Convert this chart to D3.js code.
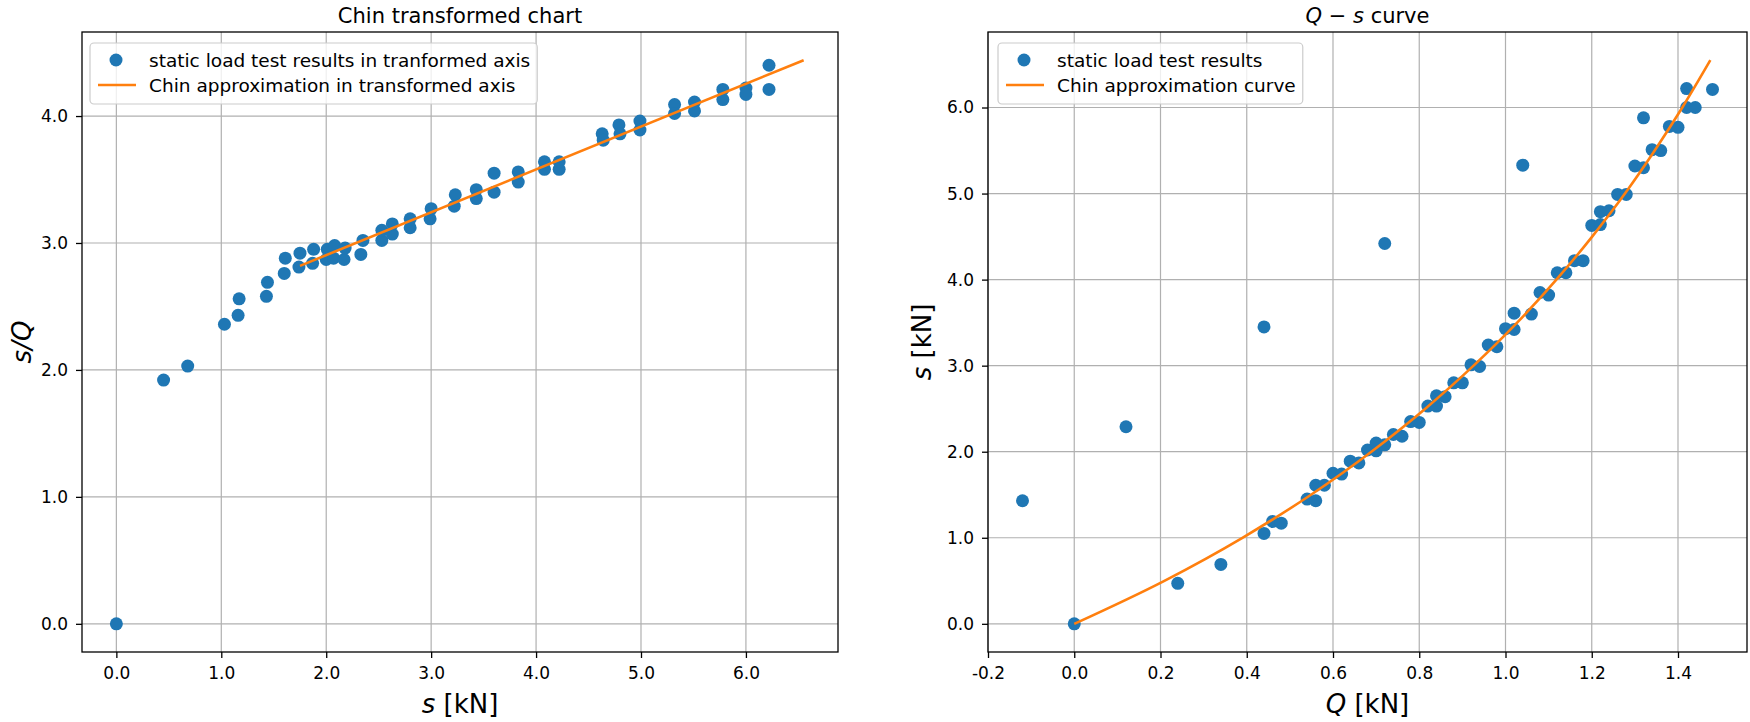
<!DOCTYPE html>
<html>
<head>
<meta charset="utf-8">
<script src="https://cdn.jsdelivr.net/npm/d3@7"></script>
<style>
  body { margin: 0; background: #fff; }
  svg text { font-family: "DejaVu Sans", sans-serif; fill: #000; }
</style>
</head>
<body>
<svg id="chart" width="1750" height="722"></svg>
<script>
// ─── Data: transformed (Chin) chart, s vs s/Q ─────────────────────────────
const chinS = [0.00, 0.45, 0.68, 1.03, 1.16, 1.17, 1.43, 1.44, 1.60, 1.61, 1.74, 1.75, 1.87, 1.88,
  2.00, 2.01, 2.07, 2.08, 2.17, 2.18, 2.33, 2.35, 2.53, 2.53, 2.63, 2.63, 2.80, 2.80, 2.99, 3.00,
  3.22, 3.23, 3.43, 3.43, 3.60, 3.60, 3.83, 3.83, 4.08, 4.08, 4.22, 4.22, 4.63, 4.64, 4.79, 4.80,
  4.99, 4.99, 5.32, 5.32, 5.51, 5.51, 5.78, 5.78, 6.00, 6.00, 6.22, 6.22];
const chinSQ = [0.00, 1.92, 2.03, 2.36, 2.43, 2.56, 2.58, 2.69, 2.76, 2.88, 2.81, 2.92, 2.84, 2.95,
  2.87, 2.95, 2.88, 2.98, 2.87, 2.96, 2.91, 3.02, 3.02, 3.10, 3.07, 3.15, 3.12, 3.19, 3.19, 3.27,
  3.29, 3.38, 3.35, 3.42, 3.40, 3.55, 3.48, 3.56, 3.58, 3.64, 3.58, 3.64, 3.86, 3.81, 3.93, 3.86,
  3.96, 3.89, 4.09, 4.02, 4.11, 4.04, 4.21, 4.13, 4.22, 4.17, 4.40, 4.21];
const chinLineS  = [1.75, 6.55];
const chinLineSQ = [2.82, 4.44];

// ─── Data: Q-s curve ──────────────────────────────────────────────────────
const testQ = [-0.12, 0.00, 0.12, 0.24, 0.34, 0.44, 0.44, 0.46, 0.48, 0.54, 0.56, 0.56, 0.58, 0.60,
  0.62, 0.64, 0.66, 0.68, 0.70, 0.70, 0.72, 0.72, 0.74, 0.76, 0.78, 0.80, 0.82, 0.84, 0.84, 0.86,
  0.88, 0.90, 0.92, 0.94, 0.96, 0.98, 1.00, 1.02, 1.02, 1.04, 1.06, 1.08, 1.10, 1.12, 1.14, 1.16,
  1.18, 1.20, 1.22, 1.22, 1.24, 1.26, 1.28, 1.30, 1.32, 1.32, 1.34, 1.36, 1.38, 1.40, 1.42, 1.42,
  1.44, 1.48];
const testS = [1.43, 0.00, 2.29, 0.47, 0.69, 1.05, 3.45, 1.19, 1.17, 1.45, 1.43, 1.61, 1.61, 1.75,
  1.74, 1.89, 1.87, 2.02, 2.01, 2.10, 2.08, 4.42, 2.20, 2.18, 2.35, 2.34, 2.53, 2.53, 2.65, 2.64,
  2.80, 2.80, 3.01, 2.99, 3.24, 3.22, 3.43, 3.61, 3.42, 5.33, 3.60, 3.85, 3.82, 4.08, 4.08, 4.22,
  4.22, 4.63, 4.64, 4.79, 4.80, 4.99, 4.99, 5.32, 5.30, 5.88, 5.51, 5.50, 5.78, 5.77, 6.22, 6.00,
  6.00, 6.21];
const curveQ = [0.000, 0.209, 0.390, 0.549, 0.689, 0.814, 0.926, 1.027, 1.118, 1.201, 1.277, 1.346, 1.410, 1.475];
const curveS = [0.00, 0.50, 1.00, 1.50, 2.00, 2.50, 3.00, 3.50, 4.00, 4.50, 5.00, 5.50, 6.00, 6.55];

// ─── Axis limits and ticks ────────────────────────────────────────────────
const leftXDomain = [-0.3275, 6.8775];
const leftYDomain = [-0.222, 4.662];
const leftXTicks = [0, 1, 2, 3, 4, 5, 6];
const leftXTickLabels = ['0.0', '1.0', '2.0', '3.0', '4.0', '5.0', '6.0'];
const leftYTicks = [0, 1, 2, 3, 4];
const leftYTickLabels = ['0.0', '1.0', '2.0', '3.0', '4.0'];

const rightXDomain = [-0.2, 1.56];
const rightYDomain = [-0.3275, 6.8775];
const rightXTicks = [-0.2, 0, 0.2, 0.4, 0.6, 0.8, 1.0, 1.2, 1.4];
const rightXTickLabels = ['-0.2', '0.0', '0.2', '0.4', '0.6', '0.8', '1.0', '1.2', '1.4'];
const rightYTicks = [0, 1, 2, 3, 4, 5, 6];
const rightYTickLabels = ['0.0', '1.0', '2.0', '3.0', '4.0', '5.0', '6.0'];

const BLUE = '#1f77b4';
const ORANGE = '#ff7f0e';

const svg = d3.select('#chart');

// mixed italic/upright text helper: parts = [[text, italic], ...]
function richText(sel, parts) {
  parts.forEach(([t, it]) => {
    sel.append('tspan').attr('font-style', it ? 'italic' : 'normal').text(t);
  });
  return sel;
}

function drawPanel(p) {
  const x = d3.scaleLinear().domain(p.xDomain).range([p.left, p.right]);
  const y = d3.scaleLinear().domain(p.yDomain).range([p.bottom, p.top]);
  const g = svg.append('g');

  // grid
  g.append('g').selectAll('line').data(p.xTicks).join('line')
    .attr('x1', d => x(d)).attr('x2', d => x(d))
    .attr('y1', p.top).attr('y2', p.bottom)
    .attr('stroke', '#b0b0b0').attr('stroke-width', 1.2);
  g.append('g').selectAll('line').data(p.yTicks).join('line')
    .attr('x1', p.left).attr('x2', p.right)
    .attr('y1', d => y(d)).attr('y2', d => y(d))
    .attr('stroke', '#b0b0b0').attr('stroke-width', 1.2);

  // axes
  const xAxis = d3.axisBottom(x).tickValues(p.xTicks)
    .tickFormat((d, i) => p.xTickLabels[i]).tickSize(6).tickPadding(9);
  const yAxis = d3.axisLeft(y).tickValues(p.yTicks)
    .tickFormat((d, i) => p.yTickLabels[i]).tickSize(6).tickPadding(8);
  [[xAxis, `translate(0,${p.bottom})`], [yAxis, `translate(${p.left},0)`]].forEach(([ax, tr]) => {
    g.append('g').attr('transform', tr).call(ax)
      .call(a => {
        a.select('.domain').remove();
        a.selectAll('line').attr('stroke', '#000').attr('stroke-width', 1.3);
        a.selectAll('text').attr('font-size', 17).attr('fill', '#000')
          .attr('font-family', '"DejaVu Sans", sans-serif');
      });
  });

  // clip
  const clipId = 'clip' + p.id;
  svg.append('clipPath').attr('id', clipId).append('rect')
    .attr('x', p.left).attr('y', p.top)
    .attr('width', p.right - p.left).attr('height', p.bottom - p.top);
  const plot = g.append('g').attr('clip-path', `url(#${clipId})`);

  // points
  const pts = p.px.map((v, i) => [v, p.py[i]]);
  plot.selectAll('circle').data(pts).join('circle')
    .attr('cx', d => x(d[0])).attr('cy', d => y(d[1]))
    .attr('r', 6.5).attr('fill', BLUE);

  // fitted line
  const lpts = p.lx.map((v, i) => [v, p.ly[i]]);
  plot.append('path').datum(lpts)
    .attr('d', d3.line().x(d => x(d[0])).y(d => y(d[1])).curve(d3.curveMonotoneX))
    .attr('fill', 'none').attr('stroke', ORANGE).attr('stroke-width', 2.6);

  // frame
  g.append('rect').attr('x', p.left).attr('y', p.top)
    .attr('width', p.right - p.left).attr('height', p.bottom - p.top)
    .attr('fill', 'none').attr('stroke', '#000').attr('stroke-width', 1.3);

  // title
  richText(g.append('text').attr('x', (p.left + p.right) / 2).attr('y', 23)
    .attr('text-anchor', 'middle').attr('font-size', 21), p.title);

  // x label
  richText(g.append('text').attr('x', (p.left + p.right) / 2).attr('y', 713)
    .attr('text-anchor', 'middle').attr('font-size', 26), p.xLabel);

  // y label
  richText(g.append('text')
    .attr('transform', `translate(${p.yLabelX},${(p.top + p.bottom) / 2}) rotate(-90)`)
    .attr('text-anchor', 'middle').attr('dominant-baseline', 'central')
    .attr('font-size', 26), p.yLabel);

  // legend
  const lg = g.append('g');
  const box = lg.append('rect');
  const lx0 = p.left + p.legendOffset;
  const mx = lx0 + 26, tx = lx0 + 59;
  lg.append('circle').attr('cx', mx).attr('cy', 60).attr('r', 6.5).attr('fill', BLUE);
  lg.append('line').attr('x1', mx - 18).attr('x2', mx + 20).attr('y1', 85).attr('y2', 85)
    .attr('stroke', ORANGE).attr('stroke-width', 2.6);
  const t1 = lg.append('text').attr('x', tx).attr('y', 60).attr('dominant-baseline', 'central')
    .attr('font-size', 18.5).text(p.legend[0]);
  const t2 = lg.append('text').attr('x', tx).attr('y', 85).attr('dominant-baseline', 'central')
    .attr('font-size', 18.5).text(p.legend[1]);
  const tw = Math.max(t1.node().getComputedTextLength(), t2.node().getComputedTextLength());
  box.attr('x', lx0).attr('y', 43).attr('width', tx + tw + 7 - lx0).attr('height', 61)
    .attr('rx', 4).attr('fill', '#fff').attr('fill-opacity', 0.8)
    .attr('stroke', '#cccccc').attr('stroke-width', 1.2);
}

drawPanel({
  id: 'L', left: 82, right: 838, top: 32, bottom: 652,
  xDomain: leftXDomain, yDomain: leftYDomain,
  xTicks: leftXTicks, xTickLabels: leftXTickLabels,
  yTicks: leftYTicks, yTickLabels: leftYTickLabels,
  px: chinS, py: chinSQ, lx: chinLineS, ly: chinLineSQ,
  title: [['Chin transformed chart', false]],
  xLabel: [['s', true], [' [kN]', false]],
  yLabel: [['s/Q', true]], yLabelX: 22,
  legendOffset: 8,
  legend: ['static load test results in tranformed axis', 'Chin approximation in transformed axis']
});

drawPanel({
  id: 'R', left: 988, right: 1747, top: 32, bottom: 652,
  xDomain: rightXDomain, yDomain: rightYDomain,
  xTicks: rightXTicks, xTickLabels: rightXTickLabels,
  yTicks: rightYTicks, yTickLabels: rightYTickLabels,
  px: testQ, py: testS, lx: curveQ, ly: curveS,
  title: [['Q', true], [' \u2212 ', false], ['s', true], [' curve', false]],
  xLabel: [['Q', true], [' [kN]', false]],
  yLabel: [['s', true], [' [kN]', false]], yLabelX: 922,
  legendOffset: 10,
  legend: ['static load test results', 'Chin approximation curve']
});
</script>
</body>
</html>
